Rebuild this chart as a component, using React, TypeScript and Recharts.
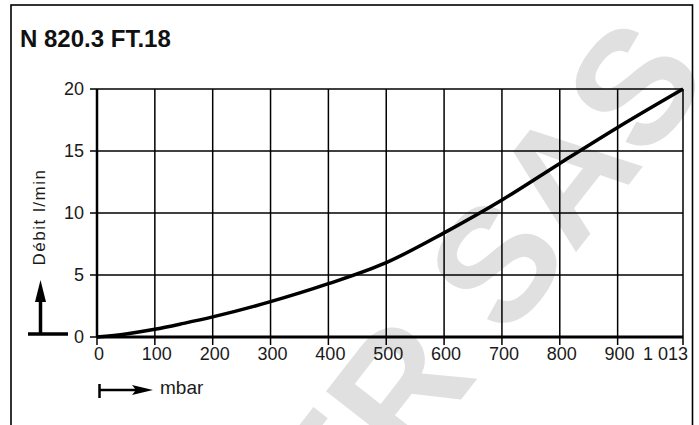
import React from 'react';
import { CartesianGrid, Line, LineChart, XAxis, YAxis } from 'recharts';

const pressure = [0, 50, 100, 150, 200, 300, 400, 500, 600, 700, 800, 900, 1013];
const flow = [0, 0.25, 0.62, 1.1, 1.62, 2.85, 4.3, 6.0, 8.4, 11.05, 14.0, 16.9, 20];
const xTicks = [0, 100, 200, 300, 400, 500, 600, 700, 800, 900, 1013];
const yTicks = [0, 5, 10, 15, 20];

const data = pressure.map((p, i) => ({ mbar: p, debit: flow[i] }));

const FONT = '"Liberation Sans", Arial, Helvetica, sans-serif';
const INK = '#1a1a1a';

function XTick(props: any) {
  const { x, y, payload } = props;
  const last = payload.value === 1013;
  return (
    <text
      x={last ? x + 5 : x + 2}
      y={y}
      dy="0.71em"
      textAnchor={last ? 'end' : 'middle'}
      fontSize={18}
      fontFamily={FONT}
      fill={INK}
    >
      {last ? '1 013' : payload.value}
    </text>
  );
}

export default function App() {
  return (
    <div style={{ position: 'absolute', left: 0, top: 0, width: 699, height: 425, overflow: 'hidden', background: '#fff' }}>
      <svg width={699} height={425} style={{ position: 'absolute', left: 0, top: 0 }}>
        {/* watermark */}
        <text
          x={712}
          y={78}
          textAnchor="end"
          transform="rotate(-52 712 78)"
          fontSize={162}
          fontWeight="bold"
          fontFamily={FONT}
          fill="#e0e0e0"
        >
          ER SAS
        </text>
        <rect x={11} y={5} width={681.5} height={440} fill="none" stroke="#000" strokeWidth={1.6} />
        <text x={20} y={47} fontSize={24} fontWeight="bold" fontFamily={FONT} fill="#111">
          N 820.3 FT.18
        </text>
        {/* y indicator */}
        <line x1={28} y1={334} x2={68} y2={334} stroke="#000" strokeWidth={3.5} />
        <line x1={40.5} y1={334} x2={40.5} y2={296} stroke="#000" strokeWidth={3.5} />
        <polygon points="40.5,280 35,302 46,302" fill="#000" />
        <text
          x={45}
          y={217}
          transform="rotate(-90 45 217)"
          textAnchor="middle"
          fontSize={17}
          letterSpacing={1.5}
          fontFamily={FONT}
          fill={INK}
        >
          Débit l/min
        </text>
        {/* x indicator */}
        <line x1={99.5} y1={384} x2={99.5} y2={398} stroke="#000" strokeWidth={2.5} />
        <line x1={99} y1={390} x2={138} y2={390} stroke="#000" strokeWidth={2.5} />
        <polygon points="153,390 132,385 136,390 132,395" fill="#000" />
        <text x={160} y={394} fontSize={19} fontFamily={FONT} fill={INK}>
          mbar
        </text>
      </svg>
      <div style={{ position: 'absolute', left: 0, top: 0 }}>
        <LineChart width={699} height={425} data={data} margin={{ top: 89, right: 16, bottom: 58, left: 0 }}>
          <CartesianGrid stroke="#000" strokeWidth={1.5} />
          <XAxis
            dataKey="mbar"
            type="number"
            domain={[0, 1013]}
            ticks={xTicks}
            interval={0}
            height={30}
            tickSize={8}
            tickMargin={2}
            tick={<XTick />}
            axisLine={{ stroke: '#000', strokeWidth: 3 }}
            tickLine={{ stroke: '#000', strokeWidth: 1.5 }}
          />
          <YAxis
            type="number"
            domain={[0, 20]}
            ticks={yTicks}
            interval={0}
            width={97}
            tickSize={7}
            tickMargin={6}
            tick={{ fontSize: 18, fontFamily: FONT, fill: INK }}
            axisLine={{ stroke: '#000', strokeWidth: 2.5 }}
            tickLine={{ stroke: '#000', strokeWidth: 1.5 }}
          />
          <Line
            type="monotone"
            dataKey="debit"
            stroke="#000"
            strokeWidth={3.5}
            dot={false}
            isAnimationActive={false}
          />
        </LineChart>
      </div>
    </div>
  );
}
